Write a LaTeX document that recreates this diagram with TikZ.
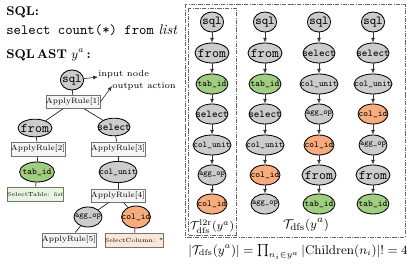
\documentclass[tikz,border=0pt]{standalone}
\usepackage{amsmath,amssymb}
\usetikzlibrary{arrows.meta,shapes.geometric}

\definecolor{astgray}{RGB}{204,204,204}
\definecolor{astgreen}{RGB}{160,206,128}
\definecolor{astorange}{RGB}{246,172,124}
\definecolor{litegreen}{RGB}{232,245,224}
\definecolor{liteorange}{RGB}{252,230,214}
\newcommand{\tn}[1]{\makebox[0pt]{#1}}

\begin{document}
\begin{tikzpicture}[x=0.025cm, y=-0.025cm,
    ast/.style={ellipse, draw, semithick, inner sep=0pt, minimum height=0.5cm},
    sqlnd/.style={ast, fill=astgray, minimum width=0.58cm, font=\ttfamily\fontsize{8.7}{9}\selectfont},
    fromnd/.style={ast, fill=astgray, minimum width=0.85cm, font=\ttfamily\fontsize{9.5}{10}\selectfont},
    tabnd/.style={ast, fill=astgreen, minimum width=0.8cm, font=\ttfamily\fontsize{6.4}{7}\selectfont},
    selnd/.style={ast, fill=astgray, minimum width=0.8cm, font=\ttfamily\fontsize{7.4}{8}\selectfont},
    unitnd/.style={ast, fill=astgray, minimum width=0.95cm, font=\ttfamily\fontsize{6.2}{7}\selectfont},
    aggnd/.style={ast, fill=astgray, minimum width=0.7cm, font=\ttfamily\fontsize{5.8}{6}\selectfont},
    colnd/.style={ast, fill=astorange, minimum width=0.75cm, font=\ttfamily\fontsize{6.4}{7}\selectfont},
    rule/.style={draw=black!55, fill=black!4, minimum width=1.25cm, minimum height=0.36cm,
                 inner sep=0pt, font=\fontsize{5.5}{6}\selectfont},
    act/.style={rule, font=\fontsize{4.2}{5}\selectfont},
    note/.style={anchor=west, inner sep=0pt, font=\fontsize{6.2}{7}\selectfont},
    head/.style={anchor=west, inner sep=0pt, font=\fontsize{9}{10}\selectfont},
    edge/.style={line width=0.5pt, black!85},
    arrow/.style={-{Latex[length=1.2mm,width=1mm]}, line width=0.45pt, black!80},
    frame/.style={draw=black!60, densely dash dot, line width=0.4pt},
  ]
  \useasboundingbox (0,0) rectangle (407,267);

  \node[head] (hsql) at (6,12) {\textbf{SQL:}};
  \node[anchor=west, inner sep=0pt] (query) at (6,30) {\texttt{select count(*) from} \textit{list}};
  \node[head] (hast) at (6,55) {\textbf{SQL\,AST} $y^a$\,\textbf{:}};

  \node[sqlnd] (lsql) at (72,80) {\tn{sql}};
  \node[rule, minimum height=0.33cm] (ar1) at (73,102) {ApplyRule[1]};
  \node[fromnd, minimum height=0.44cm] (lfrom) at (35,128) {\tn{from}};
  \node[selnd, minimum height=0.44cm] (lsel) at (114,127) {\tn{select}};
  \node[rule, minimum width=1.32cm] (ar2) at (38,149) {ApplyRule[2]};
  \node[tabnd, minimum width=0.87cm] (ltab) at (37,172) {\tn{tab\_id}};
  \node[act, fill=litegreen] (stab) at (35,194) {SelectTable: \textit{list}};
  \node[rule] (ar3) at (118,149) {ApplyRule[3]};
  \node[unitnd, minimum height=0.53cm] (lunit) at (118,172) {\tn{col\_unit}};
  \node[rule, minimum height=0.32cm] (ar4) at (118,196) {ApplyRule[4]};
  \node[aggnd] (lagg) at (88,217) {\tn{agg\_op}};
  \node[colnd, minimum width=0.72cm, minimum height=0.55cm] (lcol) at (136,217) {\tn{col\_id}};
  \node[rule, minimum width=1.2cm] (ar5) at (69,240) {ApplyRule[5]};
  \node[act, minimum width=1.2cm, fill=liteorange] (scol) at (134,240) {SelectColumn: *};

  \node[note] (innote) at (98,74) {input node};
  \node[note] (outnote) at (112,86) {output action};

  \draw[edge] (lsql) -- (ar1);
  \draw[edge] (ar1) -- (lfrom);
  \draw[edge] (ar1) -- (lsel);
  \draw[edge] (lfrom) -- (ar2);
  \draw[edge] (ar2) -- (ltab);
  \draw[edge] (ltab) -- (stab);
  \draw[edge] (lsel) -- (ar3);
  \draw[edge] (ar3) -- (lunit);
  \draw[edge] (lunit) -- (ar4);
  \draw[edge] (ar4) -- (lagg);
  \draw[edge] (ar4) -- (lcol);
  \draw[edge] (lagg) -- (ar5);
  \draw[edge] (lcol) -- (scol);
  \draw[arrow] (lsql) -- (innote);
  \draw[arrow] (ar1.east) -- (outnote.west);

  \draw[frame] (185,4) rectangle (405,237);
  \draw[frame] (188,8) rectangle (236,235);

  \node[sqlnd] (a1) at (212,22) {\tn{sql}};
  \node[fromnd] (a2) at (212,53) {\tn{from}};
  \node[tabnd] (a3) at (212,84) {\tn{tab\_id}};
  \node[selnd] (a4) at (212,114) {\tn{select}};
  \node[unitnd] (a5) at (212,145) {\tn{col\_unit}};
  \node[aggnd] (a6) at (212,175) {\tn{agg\_op}};
  \node[colnd] (a7) at (212,204) {\tn{col\_id}};

  \node[sqlnd] (b1) at (265,22) {\tn{sql}};
  \node[fromnd] (b2) at (265,53) {\tn{from}};
  \node[tabnd] (b3) at (265,84) {\tn{tab\_id}};
  \node[selnd] (b4) at (265,114) {\tn{select}};
  \node[unitnd] (b5) at (265,145) {\tn{col\_unit}};
  \node[colnd] (b6) at (265,175) {\tn{col\_id}};
  \node[aggnd] (b7) at (265,204) {\tn{agg\_op}};

  \node[sqlnd] (c1) at (319,22) {\tn{sql}};
  \node[selnd] (c2) at (319,53) {\tn{select}};
  \node[unitnd] (c3) at (319,84) {\tn{col\_unit}};
  \node[aggnd] (c4) at (319,114) {\tn{agg\_op}};
  \node[colnd] (c5) at (319,145) {\tn{col\_id}};
  \node[fromnd] (c6) at (319,175) {\tn{from}};
  \node[tabnd] (c7) at (319,204) {\tn{tab\_id}};

  \node[sqlnd] (d1) at (373,22) {\tn{sql}};
  \node[selnd] (d2) at (373,53) {\tn{select}};
  \node[unitnd] (d3) at (373,84) {\tn{col\_unit}};
  \node[colnd] (d4) at (373,114) {\tn{col\_id}};
  \node[aggnd] (d5) at (373,145) {\tn{agg\_op}};
  \node[fromnd] (d6) at (373,175) {\tn{from}};
  \node[tabnd] (d7) at (373,204) {\tn{tab\_id}};

  \foreach \c in {a,b,c,d}
    \foreach \i/\j in {1/2,2/3,3/4,4/5,5/6,6/7}
      \draw[arrow] (\c\i) -- (\c\j);

  \node[inner sep=0pt, font=\fontsize{8.3}{9}\selectfont] (l2r) at (212,227) {$\mathcal{T}^{\mathrm{l2r}}_{\mathrm{dfs}}(y^a)$};
  \node[inner sep=0pt, font=\fontsize{9.5}{10}\selectfont] (dfs) at (306,225) {$\mathcal{T}_{\mathrm{dfs}}(y^a)$};
  \node[font=\fontsize{8.6}{9}\selectfont] (count) at (298,252) {$|\mathcal{T}_{\mathrm{dfs}}(y^a)| = \prod_{n_i\in y^a}|\mathrm{Children}(n_i)|! = 4$};
\end{tikzpicture}
\end{document}
